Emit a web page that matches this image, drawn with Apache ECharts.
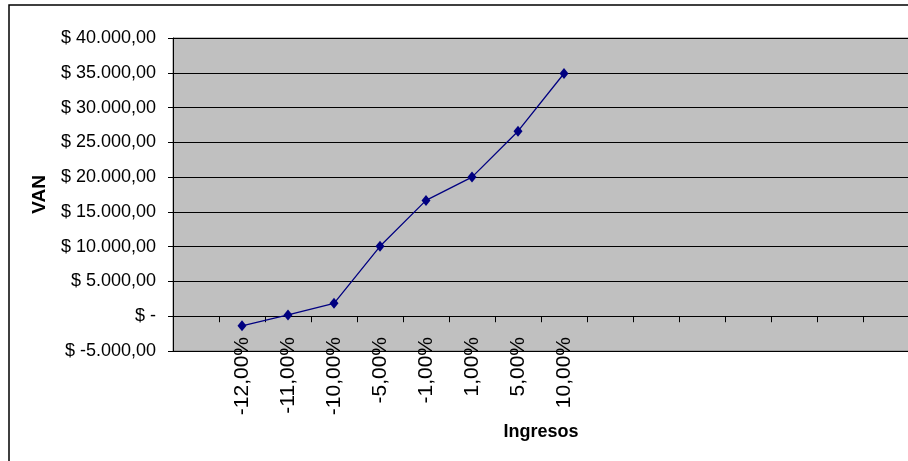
<!DOCTYPE html>
<html>
<head>
<meta charset="utf-8">
<script src="https://cdn.jsdelivr.net/npm/echarts@6/dist/echarts.min.js"></script>
<style>
html,body{margin:0;padding:0;background:#fff;}
#c{width:908px;height:461px;}
</style>
</head>
<body>
<div id="c"></div>
<script>
// Data
var categories = ['', '-12,00%', '-11,00%', '-10,00%', '-5,00%', '-1,00%', '1,00%', '5,00%', '10,00%',
                  '', '', '', '', '', '', ''];
var vanValues = [null, -1380, 180, 1850, 10050, 16650, 20000, 26600, 34900];
var yTickValues = [-5000, 0, 5000, 10000, 15000, 20000, 25000, 30000, 35000, 40000];
var yTickLabels = ['$ -5.000,00', '$ -', '$ 5.000,00', '$ 10.000,00', '$ 15.000,00',
                   '$ 20.000,00', '$ 25.000,00', '$ 30.000,00', '$ 35.000,00', '$ 40.000,00'];

var chart = echarts.init(document.getElementById('c'), null, {renderer: 'canvas'});
var font = 'Liberation Sans, Arial, sans-serif';

chart.setOption({
  animation: false,
  backgroundColor: '#ffffff',
  graphic: [{
    type: 'rect',
    silent: true,
    z: -10,
    shape: {x: 9, y: 5, width: 1000, height: 1000},
    style: {fill: 'none', stroke: '#000', lineWidth: 1.5}
  }],
  grid: {
    left: 173, top: 38, width: 736, height: 313,
    containLabel: false,
    outerBoundsMode: 'none',
    show: true,
    backgroundColor: '#c0c0c0',
    borderColor: '#808080',
    borderWidth: 1
  },
  xAxis: {
    type: 'category',
    data: categories,
    boundaryGap: true,
    name: 'Ingresos',
    nameLocation: 'middle',
    nameGap: 67,
    nameTextStyle: {fontFamily: font, fontSize: 18, fontWeight: 'bold', color: '#000'},
    axisLine: {onZero: true, lineStyle: {color: '#000', width: 1}},
    axisTick: {show: true, alignWithLabel: false, interval: 0, length: 6, lineStyle: {color: '#000'}},
    axisLabel: {interval: 0, rotate: 90, margin: -14, fontFamily: font, fontSize: 21, color: '#000'},
    splitLine: {show: false}
  },
  yAxis: {
    type: 'value',
    min: -5000, max: 40000, interval: 5000,
    name: 'VAN',
    nameLocation: 'middle',
    nameGap: 124,
    nameRotate: 90,
    nameTextStyle: {fontFamily: font, fontSize: 19, fontWeight: 'bold', color: '#000'},
    axisLine: {show: true, lineStyle: {color: '#000', width: 1}},
    axisTick: {show: true, length: 5, lineStyle: {color: '#000'}},
    axisLabel: {
      margin: 17, fontFamily: font, fontSize: 18, color: '#000',
      formatter: function (v) {
        var i = yTickValues.indexOf(v);
        return i >= 0 ? yTickLabels[i] : '';
      }
    },
    splitLine: {show: true, lineStyle: {color: '#000', width: 1}}
  },
  series: [{
    type: 'line',
    data: vanValues,
    symbol: 'diamond',
    symbolSize: [9, 11],
    lineStyle: {color: '#000080', width: 1.3},
    itemStyle: {color: '#000080'},
    silent: true
  }]
});
</script>
</body>
</html>
